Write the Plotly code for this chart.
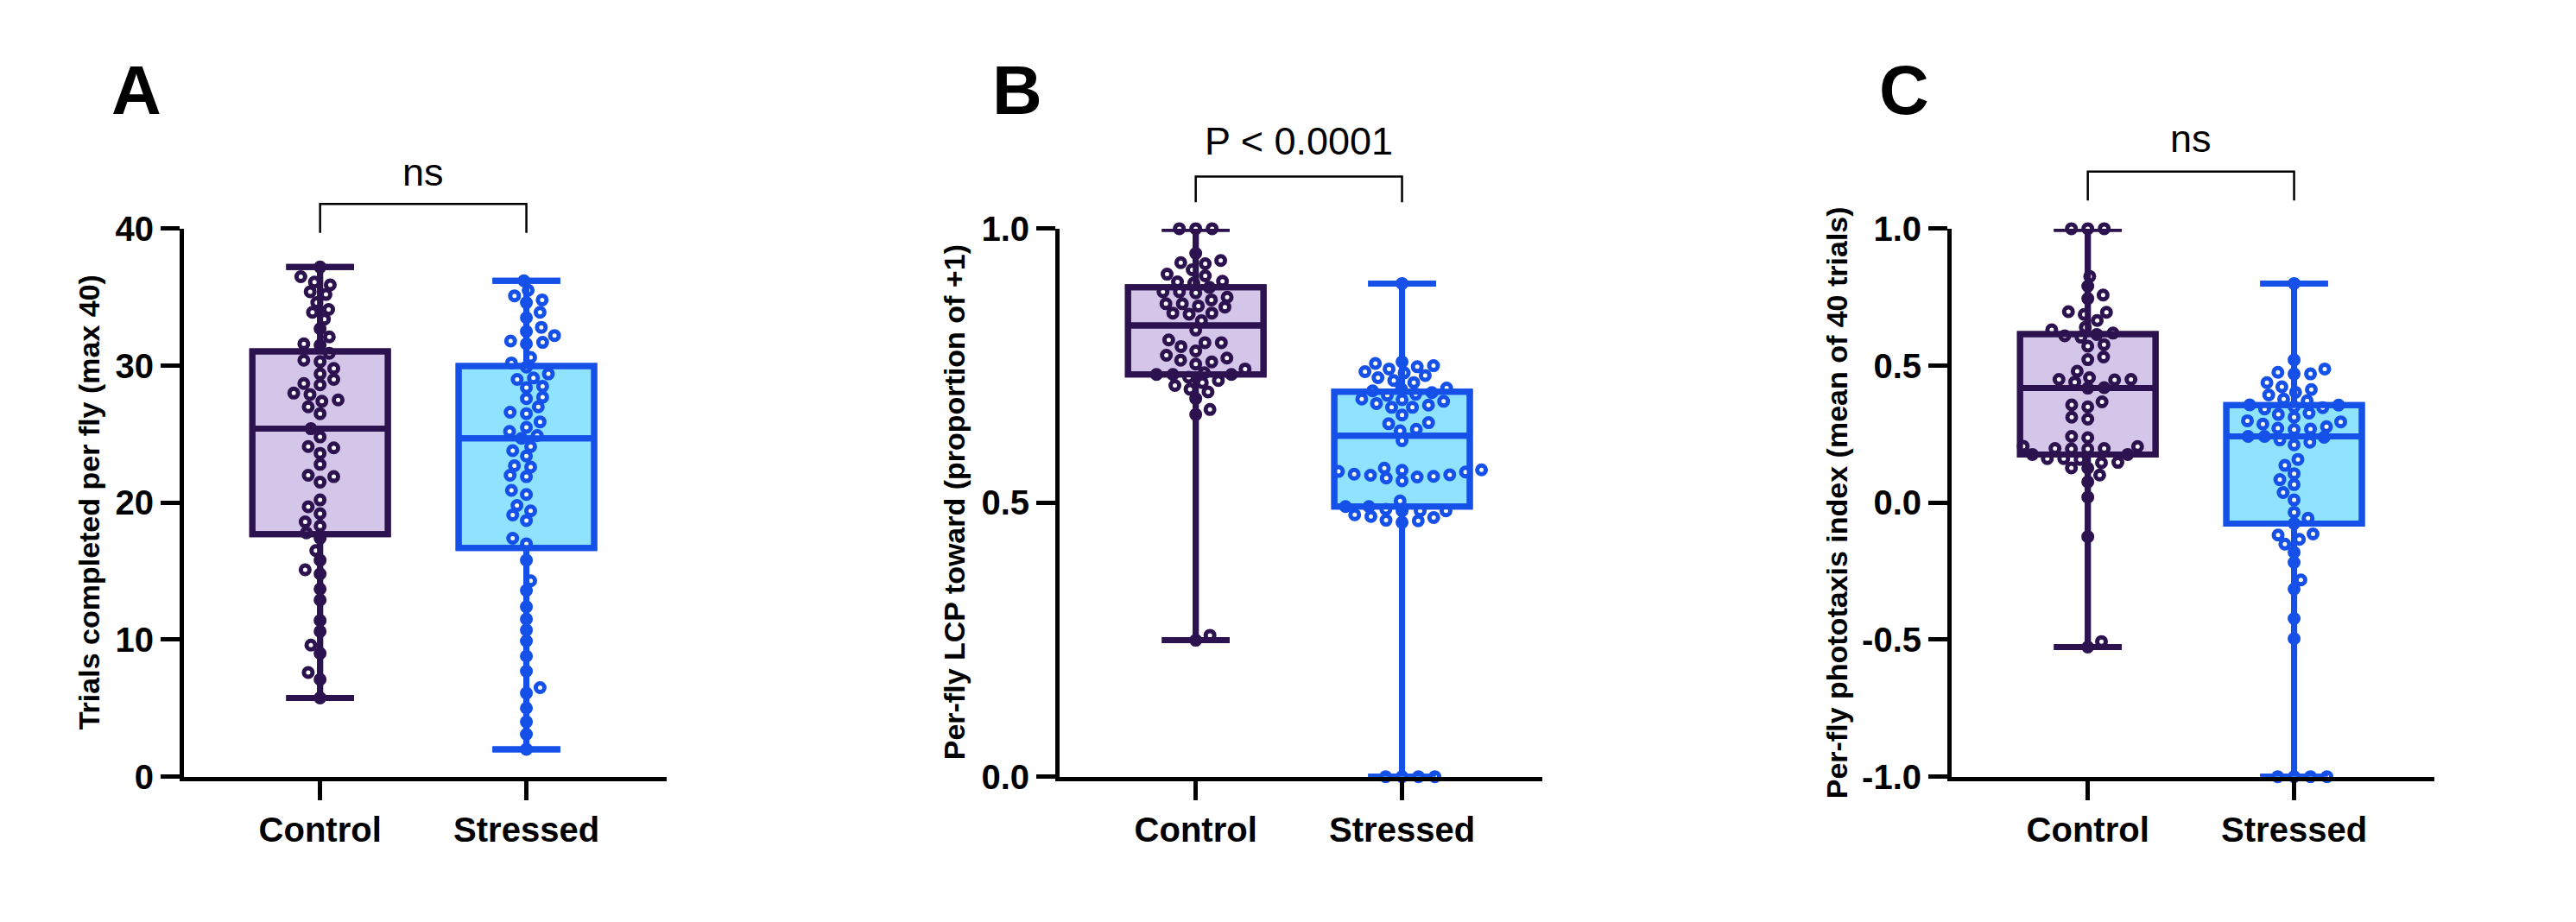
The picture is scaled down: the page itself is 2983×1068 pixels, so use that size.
import math
import plotly.graph_objects as go

# groups and tick labels
groups = ["Control", "Stressed"]
ticks_a = [0, 10, 20, 30, 40]
ticks_b = [0.0, 0.5, 1.0]
ticks_c = [-1.0, -0.5, 0.0, 0.5, 1.0]
ticktext_c = ["-1.0", "-0.5", "0.0", "0.5", "1.0"]

# A: trials completed per fly
trials_control = [37.2, 36.5, 36.1, 35.9, 35.4, 35.2, 34.6, 34.1, 33.9, 33.4, 32.7, 32.1,
                  31.6, 31.5, 30.9, 30.3, 30.4, 29.8, 29.4, 29.0, 28.7, 28.6, 28.0, 27.9,
                  27.5, 27.4, 27.0, 26.5, 25.4, 24.8, 24.1, 24.0, 23.6, 22.8, 22.0, 21.9,
                  21.5, 20.2, 19.7, 19.2, 18.6, 18.3, 17.8, 17.4, 16.5, 15.8, 14.8, 15.1,
                  13.7, 12.9, 11.4, 10.6, 9.6, 9.0, 7.6, 7.1, 5.75]
trials_stressed = [36.2, 35.5, 35.1, 34.8, 34.6, 33.9, 33.5, 32.8, 32.5, 32.2, 31.8, 31.7,
                   31.6, 30.6, 30.2, 29.9, 29.4, 29.1, 29.0, 28.5, 28.4, 27.7, 27.6, 27.0,
                   26.6, 26.5, 25.9, 25.5, 25.2, 24.9, 24.7, 24.1, 23.8, 23.4, 22.7, 22.6,
                   22.0, 21.9, 20.9, 20.6, 19.8, 19.4, 19.1, 18.7, 17.4, 17.0, 15.8, 14.3,
                   13.6, 12.4, 11.5, 10.7, 9.9, 8.8, 7.7, 6.5, 6.1, 5.0, 4.0, 3.1, 2.0]

# B: per-fly LCP toward (proportion of +1)
lcp_control = [1.0, 1.0, 1.0, 0.955, 0.942, 0.938, 0.936, 0.925, 0.917, 0.914, 0.904,
               0.903, 0.901, 0.893, 0.885, 0.885, 0.883, 0.875, 0.870, 0.863, 0.863, 0.859,
               0.857, 0.846, 0.846, 0.844, 0.832, 0.815, 0.797, 0.792, 0.792, 0.785, 0.777,
               0.769, 0.764, 0.760, 0.757, 0.753, 0.744, 0.737, 0.734, 0.734, 0.734, 0.729,
               0.723, 0.719, 0.714, 0.707, 0.702, 0.690, 0.670, 0.661, 0.258, 0.249]
lcp_stressed = [0.900, 0.757, 0.754, 0.750, 0.748, 0.744, 0.739, 0.737, 0.732, 0.728, 0.723,
                0.719, 0.709, 0.707, 0.704, 0.701, 0.698, 0.696, 0.689, 0.688, 0.685, 0.681,
                0.678, 0.674, 0.674, 0.660, 0.646, 0.644, 0.634, 0.631, 0.613,
                0.563, 0.560, 0.559, 0.557, 0.556, 0.552, 0.551, 0.550, 0.548, 0.547, 0.545,
                0.540, 0.503, 0.493, 0.493, 0.488, 0.485, 0.485, 0.485, 0.478, 0.475, 0.473,
                0.468, 0.467, 0.464, 0.0, 0.0, 0.0, 0.0]

# C: per-fly phototaxis index (mean of 40 trials)
photo_control = [1.0, 1.0, 1.0, 0.826, 0.790, 0.758, 0.745, 0.697, 0.695, 0.687, 0.665, 0.640,
                 0.631, 0.619, 0.614, 0.609, 0.604, 0.577, 0.571, 0.532, 0.522, 0.480, 0.456,
                 0.450, 0.450, 0.448, 0.440, 0.420, 0.418, 0.368, 0.357, 0.350, 0.312, 0.305,
                 0.242, 0.237, 0.206, 0.205, 0.198, 0.198, 0.196, 0.196, 0.176, 0.176, 0.161,
                 0.161, 0.158, 0.147, 0.146, 0.127, 0.126, 0.101, 0.076, 0.020, -0.124,
                 -0.507, -0.527]
photo_stressed = [0.800, 0.521, 0.488, 0.476, 0.470, 0.470, 0.438, 0.423, 0.413, 0.403, 0.393,
                  0.378, 0.372, 0.357, 0.356, 0.350, 0.347, 0.342, 0.327, 0.322, 0.312, 0.299,
                  0.295, 0.287, 0.277, 0.272, 0.269, 0.267, 0.242, 0.242, 0.239, 0.229, 0.221,
                  0.211, 0.158, 0.136, 0.106, 0.084, 0.066, 0.037, 0.010, -0.035, -0.057,
                  -0.076, -0.114, -0.118, -0.134, -0.151, -0.181, -0.218, -0.282, -0.315,
                  -0.423, -0.496, -1.0, -1.0, -1.0, -1.0]

W, H = 2983, 1068
OFF = 8                           # page body margin the figure sits in
Y_TOP, Y_BOT = 253, 915           # pixel rows of the y-axis ends
PLOT_W = 559
X_RANGE = [-0.66, 1.68]
UNIT = PLOT_W / (X_RANGE[1] - X_RANGE[0])   # px per category step
FONT = "Arial, Liberation Sans, sans-serif"

LINE_COLORS = ["#2D1250", "#1550E8"]
FILL_COLORS = ["#D3C6E8", "#8FE3FE"]

panels = [
    dict(left=213, letter="A", data=[trials_control, trials_stressed], yr=[0, 40],
         tickvals=ticks_a, ticktext=[str(t) for t in ticks_a],
         title="Trials completed per fly (max 40)", title_x=103,
         sig="ns", bracket=223, leg=258, sig_y=185, letter_x=158),
    dict(left=1227, letter="B", data=[lcp_control, lcp_stressed], yr=[0, 1],
         tickvals=ticks_b, ticktext=["%.1f" % t for t in ticks_b],
         title="Per-fly LCP toward (proportion of +1)", title_x=1105,
         sig="P < 0.0001", bracket=190, leg=221, sig_y=147, letter_x=1178),
    dict(left=2260, letter="C", data=[photo_control, photo_stressed], yr=[-1, 1],
         tickvals=ticks_c, ticktext=ticktext_c,
         title="Per-fly phototaxis index (mean of 40 trials)", title_x=2127,
         sig="ns", bracket=184, leg=219, sig_y=144, letter_x=2205),
]


def swarm(vals, px_per_val, gap_x=19.0, gap_y=12.0):
    # beeswarm with an elliptical keep-out (points may stack closely in a column)
    ys = [v * px_per_val for v in vals]
    placed = []
    xs = [0.0] * len(vals)
    for i in sorted(range(len(vals)), key=lambda k: ys[k]):
        y = ys[i]
        blocks = []
        cands = [0.0]
        for px, py_ in placed:
            dy = abs(y - py_)
            if dy < gap_y:
                dx = gap_x * math.sqrt(1 - (dy / gap_y) ** 2)
                blocks.append((px - dx, px + dx))
                cands += [px - dx, px + dx]
        cands.sort(key=lambda c: (abs(round(c, 6)), -c if len(placed) % 2 else c))
        for c in cands:
            if all(not (lo + 1e-6 < c < hi - 1e-6) for lo, hi in blocks):
                break
        placed.append((c, y))
        xs[i] = c / UNIT
    return xs


def py(px):
    return 1 - (px - OFF) / H


def px_x(px):
    return (px - OFF) / W


fig = go.Figure()
layout = dict(width=W, height=H, margin=dict(l=0, r=0, t=0, b=0),
              paper_bgcolor="white", plot_bgcolor="white", showlegend=False,
              annotations=[], shapes=[])

for k, p in enumerate(panels):
    sfx = "" if k == 0 else str(k + 1)
    ov = str(k + 4)
    dom = [px_x(p["left"]), px_x(p["left"] + PLOT_W)]
    px_per_val = (Y_BOT - Y_TOP) / (p["yr"][1] - p["yr"][0])

    layout["xaxis" + sfx] = dict(domain=dom, range=X_RANGE, anchor="y" + sfx,
                                 showgrid=False, zeroline=False, showline=True,
                                 linewidth=5, linecolor="black", ticks="outside",
                                 ticklen=22, tickwidth=5, tickcolor="black",
                                 tickvals=[0, 1], ticktext=groups,
                                 tickfont=dict(family=FONT, size=40, color="black", weight="bold"))
    layout["yaxis" + sfx] = dict(domain=[py(Y_BOT), py(Y_TOP)], range=p["yr"], anchor="x" + sfx,
                                 showgrid=False, zeroline=False, showline=True,
                                 linewidth=5, linecolor="black", ticks="outside",
                                 ticklen=22, tickwidth=5, tickcolor="black",
                                 tickvals=p["tickvals"], ticktext=p["ticktext"],
                                 tickfont=dict(family=FONT, size=40, color="black", weight="bold"))
    # overlay axes so the box lines sit on top of the dots
    layout["xaxis" + ov] = dict(overlaying="x" + sfx, range=X_RANGE, anchor="y" + ov, visible=False)
    layout["yaxis" + ov] = dict(overlaying="y" + sfx, range=p["yr"], anchor="x" + ov, visible=False)

    for j, vals in enumerate(p["data"]):
        box = dict(x=[j] * len(vals), y=vals, boxpoints=False, width=0.657, whiskerwidth=0.5,
                   line=dict(color=LINE_COLORS[j], width=7), hoverinfo="skip")
        fig.add_trace(go.Box(**box, fillcolor=FILL_COLORS[j], xaxis="x" + sfx, yaxis="y" + sfx))
        offs = swarm(vals, px_per_val)
        fig.add_trace(go.Scatter(x=[j + o for o in offs], y=vals, mode="markers",
                                 xaxis="x" + sfx, yaxis="y" + sfx, cliponaxis=False,
                                 marker=dict(symbol="circle", size=10, color="white",
                                             line=dict(color=LINE_COLORS[j], width=5)),
                                 hoverinfo="skip"))
        fig.add_trace(go.Box(**box, fillcolor="rgba(0,0,0,0)", xaxis="x" + ov, yaxis="y" + ov))

    # significance bracket
    layout["shapes"].append(dict(type="path", xref="x" + sfx, yref="paper",
                                 path="M 0,%f L 0,%f L 1,%f L 1,%f" % (py(p["leg"]), py(p["bracket"]),
                                                                       py(p["bracket"]), py(p["leg"])),
                                 line=dict(color="black", width=2.5)))
    layout["annotations"].append(dict(text=p["sig"], xref="x" + sfx, yref="paper", x=0.5,
                                      y=py(p["sig_y"]), xanchor="center", yanchor="middle",
                                      showarrow=False, font=dict(family=FONT, size=45, color="black")))
    # axis title
    layout["annotations"].append(dict(text=p["title"], xref="paper", yref="paper",
                                      x=px_x(p["title_x"]), y=py((Y_TOP + Y_BOT) / 2), textangle=-90,
                                      xanchor="center", yanchor="middle", showarrow=False,
                                      font=dict(family=FONT, size=34, color="black", weight="bold")))
    # panel letter
    layout["annotations"].append(dict(text=p["letter"], xref="paper", yref="paper",
                                      x=px_x(p["letter_x"]), y=py(86), xanchor="center",
                                      yanchor="middle", showarrow=False,
                                      font=dict(family=FONT, size=80, color="black", weight="bold")))

fig.update_layout(**layout)
fig.write_html("out.html")
